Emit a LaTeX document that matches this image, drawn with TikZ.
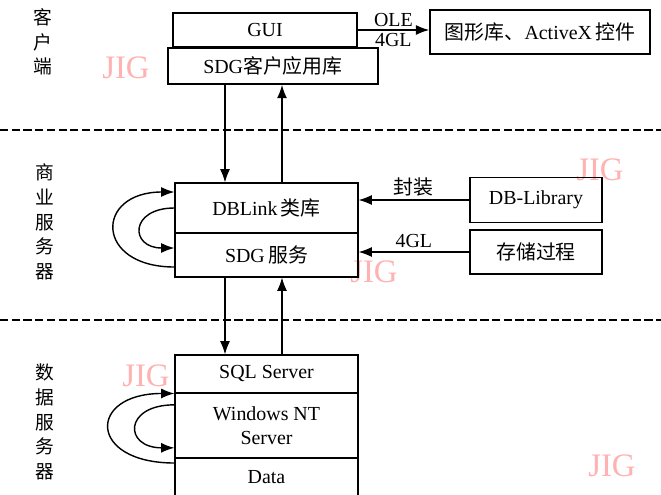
\documentclass[tikz,border=0pt]{standalone}
\usepackage{fontspec}
\setmainfont{Liberation Serif}
\newfontfamily\cjk{Noto Sans CJK SC}
\usetikzlibrary{arrows.meta}

\newcommand{\txt}{\fontsize{17}{20}\selectfont}
\tikzstyle{box} = [draw, line width=0.9pt, inner sep=0pt, font=\txt]
\tikzstyle{layer} = [box, minimum width=5.49cm]
\tikzstyle{side} = [box, line width=1.3pt, minimum width=3.96cm]
\tikzstyle{arr} = [line width=1.2pt, -{Latex[length=4mm,width=3mm]}]
\tikzstyle{lbl} = [font=\txt, inner sep=1pt]
\tikzstyle{tier} = [font=\cjk\fontsize{16}{21}\selectfont, align=center, inner sep=0pt]
\tikzstyle{dashline} = [line width=1.6pt, dash pattern=on 7pt off 3pt]
\tikzstyle{wmark} = [text=red!30, font=\fontsize{28}{28}\selectfont, inner sep=0pt]

\begin{document}
\begin{tikzpicture}[x=0.03cm,y=-0.03cm]
		\useasboundingbox (0,0) rectangle (661,494);
		\clip (0,0) rectangle (661,494);
		
		% watermarks
		\node[wmark] (w1) at (126,68) {JIG};
		\node[wmark] (w2) at (600,170) {JIG};
		\node[wmark] (w3) at (374,272) {JIG};
		\node[wmark] (w4) at (146,376) {JIG};
		\node[wmark] (w5) at (612,466) {JIG};
		
		% tiers
		\node[tier] (t1) at (43,42) {客\\户\\端};
		\node[tier] (t2) at (45,222) {商\\业\\服\\务\\器};
		\node[tier] (t3) at (45,422) {数\\据\\服\\务\\器};
		\draw[dashline] (0,130) -- (661,130);
		\draw[dashline] (0,320) -- (661,320);
		
		% client
		\node[box, minimum width=5.52cm, minimum height=1.02cm] (gui) at (265,30) {GUI};
		\node[box, line width=1.4pt, fill=white, minimum width=6.3cm, minimum height=1.08cm] (sdglib) at (273,66) {SDG{\cjk 客户应用库}};
		\node[box, line width=1.3pt, minimum width=6.6cm, minimum height=1.32cm] (activex) at (540,32) {{\cjk 图形库、}ActiveX\,{\cjk 控件}};
		\draw[arr] (gui.east) -- (gui.east -| activex.west)
			node[lbl, midway, above, yshift=1pt] {OLE}
			node[lbl, midway, below, yshift=-1pt] {4GL};
		
		% business server
		\node[layer, minimum height=1.5cm] (dblink) at (266.5,208) {DBLink\,{\cjk 类库}};
		\node[layer, minimum height=1.32cm] (sdgsvc) at (266.5,255) {SDG\,{\cjk 服务}};
		\draw[line width=1.4pt] (dblink.north west) rectangle (sdgsvc.south east);
		\node[side, minimum height=1.35cm] (dblib) at (536,200) {DB-Library};
		\node[side, minimum height=1.32cm] (proc) at (536,252) {\cjk 存储过程};
		\draw[arr] (dblib.west) -- (dblib.west -| dblink.east) node[lbl, midway, above, yshift=2pt] {\cjk 封装};
		\draw[arr] (proc.west) -- (proc.west -| sdgsvc.east) node[lbl, midway, above, yshift=2pt] {4GL};
		\draw[arr] ([yshift=-0.36cm]sdgsvc.west) .. controls +(-80,0) and +(-80,0) .. ([yshift=0.48cm]dblink.west);
		\draw[arr] (dblink.west) .. controls +(-45,0) and +(-45,0) .. ([yshift=0.21cm]sdgsvc.west);
		
		% data server
		\node[layer, minimum height=1.14cm] (sql) at (266.5,374) {SQL Server};
		\node[layer, minimum height=1.95cm, align=center] (winnt) at (266.5,425.5) {Windows NT\\Server};
		\node[layer, minimum height=1.14cm] (data) at (266.5,477) {Data};
		\draw[line width=1.4pt] (sql.north west) rectangle (data.south east);
		\draw[arr] ([yshift=0.42cm]data.west) .. controls +(-87,0) and +(-87,0) .. ([yshift=-0.03cm]winnt.north west);
		\draw[arr] ([yshift=0.62cm]winnt.west) .. controls +(-51,0) and +(-51,0) .. ([yshift=-0.67cm]winnt.west);
		
		% between tiers
		\draw[arr] ([xshift=-1.245cm]dblink.north |- sdglib.south) -- ([xshift=-1.245cm]dblink.north);
		\draw[arr] ([xshift=0.465cm]dblink.north) -- ([xshift=0.465cm]dblink.north |- sdglib.south);
		\draw[arr] ([xshift=-1.245cm]sql.north |- sdgsvc.south) -- ([xshift=-1.245cm]sql.north);
		\draw[arr] ([xshift=0.465cm]sql.north) -- ([xshift=0.465cm]sql.north |- sdgsvc.south);
		\end{tikzpicture}
\end{document}
